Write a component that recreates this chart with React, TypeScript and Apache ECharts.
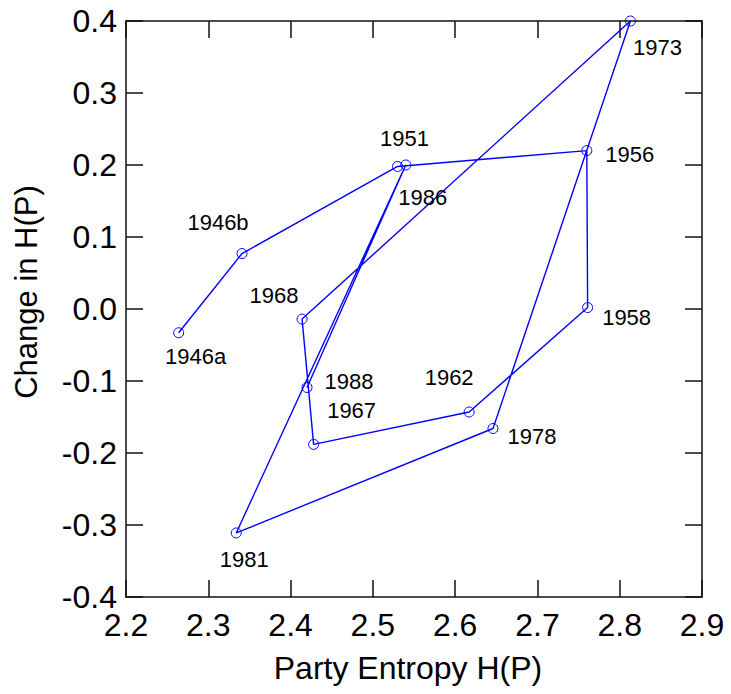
import React, { useEffect, useRef } from "react";
import * as echarts from "echarts";

const years = ["1946a", "1946b", "1951", "1956", "1958", "1962", "1967", "1968", "1973", "1978", "1981", "1986", "1988"];
const entropy = [2.264, 2.341, 2.530, 2.760, 2.761, 2.617, 2.428, 2.414, 2.813, 2.646, 2.334, 2.540, 2.420];
const change = [-0.033, 0.077, 0.198, 0.220, 0.002, -0.143, -0.188, -0.014, 0.400, -0.166, -0.311, 0.200, -0.109];
// label offsets (px) relative to each point
const labelOffsets: number[][] = [
  [17, 24], [-24, -31], [7, -28], [43, 4], [39, 10], [-20, -34], [38, -34], [-28, -24], [27, 26], [39, 8], [8, 27], [17, 32], [42, -6],
];
const xTicks = [2.2, 2.9, 0.1];
const yTicks = [-0.4, 0.4, 0.1];
const xTitle = "Party Entropy H(P)";
const yTitle = "Change in H(P)";

const FONT = "'Liberation Sans', Arial, Helvetica, sans-serif";

export default function App() {
  const ref = useRef<HTMLDivElement>(null);
  useEffect(() => {
    if (!ref.current) return;
    const chart = echarts.init(ref.current, undefined, { renderer: "svg" });
    const data = years.map((y, i) => ({
      name: y,
      value: [entropy[i], change[i]],
      label: { offset: labelOffsets[i] },
    }));
    const axisLine = { show: true, onZero: false, lineStyle: { color: "#111", width: 1.5 } };
    const axisTick = { show: true, inside: true, length: 17, lineStyle: { color: "#111", width: 1.5 } };
    chart.setOption({
      animation: false,
      backgroundColor: "#fff",
      grid: { left: 126, top: 21, right: 29, bottom: 97, containLabel: false },
      xAxis: [
        {
          type: "value", min: xTicks[0], max: xTicks[1], interval: xTicks[2], position: "bottom",
          axisLine, axisTick, splitLine: { show: false },
          axisLabel: { color: "#000", fontSize: 32, fontFamily: FONT, margin: 12, formatter: (v: number) => v.toFixed(1) },
        },
        {
          type: "value", min: xTicks[0], max: xTicks[1], interval: xTicks[2], position: "top",
          axisLine, axisTick, splitLine: { show: false }, axisLabel: { show: false },
        },
      ],
      yAxis: [
        {
          type: "value", min: yTicks[0], max: yTicks[1], interval: yTicks[2], position: "left",
          axisLine, axisTick, splitLine: { show: false },
          axisLabel: { color: "#000", fontSize: 32, fontFamily: FONT, margin: 9, formatter: (v: number) => v.toFixed(1) },
        },
        {
          type: "value", min: yTicks[0], max: yTicks[1], interval: yTicks[2], position: "right",
          axisLine, axisTick, splitLine: { show: false }, axisLabel: { show: false },
        },
      ],
      graphic: [
        {
          type: "text", x: 408, y: 668,
          style: { text: xTitle, font: `32px ${FONT}`, fill: "#000", align: "center", verticalAlign: "middle" },
        },
        {
          type: "text", x: 26, y: 292, rotation: Math.PI / 2,
          style: { text: yTitle, font: `31px ${FONT}`, fill: "#000", align: "center", verticalAlign: "middle" },
        },
      ],
      series: [
        {
          type: "line",
          xAxisIndex: 0, yAxisIndex: 0,
          data,
          symbol: "circle",
          symbolSize: 10,
          lineStyle: { color: "#0000ff", width: 1.4 },
          itemStyle: { color: "rgba(0,0,0,0)", borderColor: "#0000ff", borderWidth: 1 },
          label: {
            show: true, position: "inside", formatter: (p: any) => p.name,
            color: "#000", fontSize: 22, fontFamily: FONT, align: "center", verticalAlign: "middle",
          },
          emphasis: { disabled: true },
        },
      ],
    });
    return () => chart.dispose();
  }, []);
  return <div ref={ref} style={{ width: 731, height: 694, position: "absolute", left: 0, top: 0 }} />;
}
